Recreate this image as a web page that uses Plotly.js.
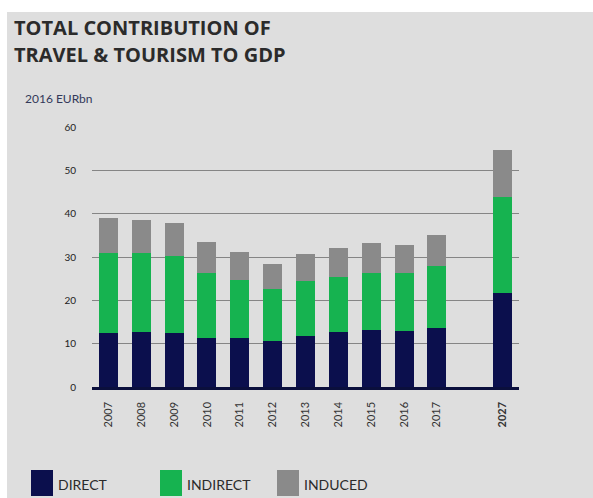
<!DOCTYPE html>
<html>
<head>
<meta charset="utf-8">
<script src="https://cdn.plot.ly/plotly-3.0.1.min.js"></script>
<style>html,body{margin:0;padding:0;background:#fff;}#chart{width:593px;height:498px;}</style>
</head>
<body>
<div id="chart"></div>
<script>
// Categories (a blank spacer slot separates 2017 from 2027)
var years = ["2007","2008","2009","2010","2011","2012","2013","2014","2015","2016","2017"," ","2027"];
var tickLabels = ["2007","2008","2009","2010","2011","2012","2013","2014","2015","2016","2017","","<b>2027</b>"];
// Values, 2016 EURbn
var direct   = [12.5, 12.7, 12.5, 11.3, 11.3, 10.6, 11.8, 12.7, 13.2, 12.9, 13.7, null, 21.8];
var indirect = [18.4, 18.2, 17.7, 15.1, 13.5, 12.1, 12.6, 12.8, 13.2, 13.3, 14.2, null, 22.0];
var induced  = [ 8.0,  7.6,  7.6,  7.0,  6.4,  5.7,  6.2,  6.6,  6.9,  6.5,  7.1, null, 10.8];
var seriesNames = ["DIRECT","INDIRECT","INDUCED"];
var seriesColors = ["#0b0f4d","#16b350","#8a8a8a"];

var W = 593, H = 498;
var M = {l: 92, r: 74, t: 127, b: 111};
function px(xp){ return (xp - M.l) / (W - M.l - M.r); }
function py(yp){ return (H - M.b - yp) / (H - M.t - M.b); }

var data = [direct, indirect, induced].map(function(v, i){
  return {type: "bar", x: years, y: v, name: seriesNames[i],
          marker: {color: seriesColors[i], line: {width: 0}},
          hoverinfo: "x+y+name", showlegend: false};
});

var shapes = [
  {type:"rect", xref:"paper", yref:"paper", x0:px(0), x1:px(W), y0:py(12), y1:py(0), fillcolor:"#ffffff", line:{width:0}},
  {type:"rect", xref:"paper", yref:"paper", x0:px(0), x1:px(7), y0:py(H), y1:py(0), fillcolor:"#ffffff", line:{width:0}}
];
var titleFont = {family:"'Open Sans', Lato, sans-serif", size:20, color:"#2b2b2b"};
var annotations = [
  {text:"<b>TOTAL CONTRIBUTION OF</b>", xref:"paper", yref:"paper",
   x:px(12), y:py(27), xanchor:"left", yanchor:"middle", showarrow:false, align:"left", font:titleFont},
  {text:"<b>TRAVEL &amp; TOURISM TO GDP</b>", xref:"paper", yref:"paper",
   x:px(12), y:py(54), xanchor:"left", yanchor:"middle", showarrow:false, align:"left", font:titleFont},
  {text:"2016 EURbn", xref:"paper", yref:"paper", x:px(23), y:py(99), xanchor:"left", yanchor:"middle",
   showarrow:false, font:{family:"Lato, sans-serif", size:12, color:"#33395a"}}
];
var legendX = [31, 160, 277];
seriesNames.forEach(function(n, i){
  shapes.push({type:"rect", xref:"paper", yref:"paper", x0:px(legendX[i]), x1:px(legendX[i]+22),
    y0:py(496), y1:py(470), fillcolor:seriesColors[i], line:{width:0}});
  annotations.push({text:n, xref:"paper", yref:"paper", x:px(legendX[i]+25), y:py(484),
    xanchor:"left", yanchor:"middle", showarrow:false,
    font:{family:"Lato, sans-serif", size:14, color:"#2b2b2b"}});
});

var layout = {
  width: W, height: H,
  margin: M,
  paper_bgcolor: "#dedede",
  plot_bgcolor: "#dedede",
  barmode: "stack",
  bargap: 0.42,
  showlegend: false,
  xaxis: {type:"category", categoryorder:"array", categoryarray: years,
          tickvals: years, ticktext: tickLabels, tickangle: -90,
          showgrid:false, showline:true, linecolor:"#0b0f3c", linewidth:2.5,
          ticks:"", ticklabelstandoff: 8,
          tickfont:{family:"Lato, sans-serif", size:11, color:"#333"}, fixedrange:true},
  yaxis: {range:[0,60], dtick:10, showgrid:true, gridcolor:"#858585", gridwidth:1,
          zeroline:false, showline:false, ticks:"", ticklabelstandoff: 15,
          tickfont:{family:"Lato, sans-serif", size:10, color:"#222"}, fixedrange:true},
  shapes: shapes,
  annotations: annotations,
  font:{family:"Lato, sans-serif"}
};
Plotly.newPlot("chart", data, layout, {displayModeBar:false, staticPlot:true});
</script>
</body>
</html>
